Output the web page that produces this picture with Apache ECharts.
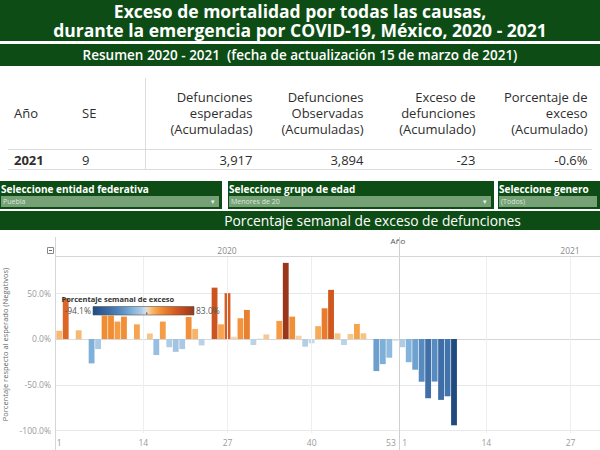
<!DOCTYPE html>
<html><head><meta charset="utf-8">
<script src="https://cdn.jsdelivr.net/npm/echarts@6/dist/echarts.min.js"></script>
<style>
html,body{margin:0;padding:0;background:#fff;}
#page{position:relative;width:600px;height:450px;overflow:hidden;font-family:'Open Sans','Noto Sans',sans-serif;background:#fff;}
.abs{position:absolute;white-space:nowrap;}
.green{background:#0d4d15;color:#fff;}
.hdr{position:absolute;text-align:right;font-size:13px;line-height:16px;height:16px;color:#2e2e2e;white-space:nowrap;}
.cell{position:absolute;font-size:13px;line-height:16px;height:16px;color:#2e2e2e;white-space:nowrap;}
.filter{position:absolute;top:181px;height:28px;background:#0d4d15;}
.filter .lab{position:absolute;left:1px;top:1px;font-size:10px;line-height:14px;font-weight:700;color:#fff;white-space:nowrap;}
.filter .dd{position:absolute;left:1px;right:3px;top:15px;height:11px;background:#76a176;}
.filter .dd span{position:absolute;left:2px;top:0;font-size:7px;line-height:11px;color:#d9e8d9;white-space:nowrap;}
.filter .dd i{position:absolute;right:4px;top:0;font-size:7px;line-height:11px;color:#e8f0e8;font-style:normal;}
.tline{display:block;height:19px;line-height:19px;}
</style></head><body>
<div id="page">
  <div class="abs green" style="left:0;top:0;width:600px;height:41px;text-align:center;font-weight:700;font-size:17.5px;padding-top:2px;box-sizing:border-box;" id="titulo"></div>
  <div class="abs green" style="left:0;top:44px;width:600px;height:22px;text-align:center;font-weight:600;font-size:13.5px;line-height:22px;white-space:pre;" id="subtitulo"></div>
  <div id="tabla"></div>
  <div id="filtros"></div>
  <div class="abs green" style="left:0;top:211px;width:600px;height:19px;"></div>
  <div class="abs" style="left:145px;top:211px;width:455px;height:19px;text-align:center;color:#fff;font-size:13.8px;line-height:19px;" id="tituloGrafica"></div>
  <div id="chart" style="position:absolute;left:0;top:230px;width:600px;height:220px;overflow:hidden;"></div>
</div>
<script>
// ---------- DATA ----------
const titulo = ['Exceso de mortalidad por todas las causas,', 'durante la emergencia por COVID-19, México, 2020 - 2021'];
const subtitulo = 'Resumen 2020 - 2021  (fecha de actualización 15 de marzo de 2021)';
const tablaEncabezados = [
  ['Defunciones', 'esperadas', '(Acumuladas)'],
  ['Defunciones', 'Observadas', '(Acumuladas)'],
  ['Exceso de', 'defunciones', '(Acumulado)'],
  ['Porcentaje de', 'exceso', '(Acumulado)']
];
const tablaFila = ['2021', '9'];
const tablaValores = ['3,917', '3,894', '-23', '-0.6%'];
const filtroTitulos = ['Seleccione entidad federativa', 'Seleccione grupo de edad', 'Seleccione genero'];
const filtroValores = ['Puebla', 'Menores de 20', '(Todos)'];
const tituloGrafica = 'Porcentaje semanal de exceso de defunciones';
const semanas = ['1','2','3','4','5','6','7','8','9','10','11','12','13','14','15','16','17','18','19','20',
  '21','22','23','24','25','26','27','28','29','30','31','32','33','34','35','36','37','38','39','40',
  '41','42','43','44','45','46','47','48','49','50','51','52','53'];
const exceso2020 = [9, 44.5, -1, 9.5, -0.5, -26.6, -11, 25.5, 25.5, 19, 24.4, -1, 16, -0.5, 6, -17.5, 19, -9, -14, -11,
  24, 11, -7, -0.5, 56, 16, 50, 2.5, 22.6, 31.7, -6.6, 0.5, 5, 0, 19.7, 83.0, 24.4, 3.6, -8.4, -4.7,
  14, 33.5, 53.6, 6.2, -6.6, 5.5, 16.4, 6.2, 0, -35, -27.4, -20.4, -2];
const exceso2021 = [-9, -25.3, -33.5, -46.6, -64.6, -46.4, -66.4, -62.5, -94.1];
const anios = ['2020', '2021'];
const yTicks = [-100, -50, 0, 50];
const etiquetasSemana2020 = ['1', '14', '27', '40', '53'];
const etiquetasSemana2021 = ['1', '14', '27'];
const legendMin = -94.1, legendMax = 83.0;
const legendTitle = 'Porcentaje semanal de exceso';
const yTitle = 'Porcentaje respecto al esperado (Negativos)';
const xTitle = 'Año';

// ---------- HTML PARTS ----------
document.getElementById('titulo').innerHTML = titulo.map(t => '<span class="tline">' + t + '</span>').join('');
document.getElementById('subtitulo').textContent = subtitulo;
document.getElementById('tituloGrafica').textContent = tituloGrafica;
(function(){
  const colRight = [252.5, 363.5, 475.5, 587.5];
  let h = '';
  h += '<div class="cell" style="left:14px;top:105px;">Año</div>';
  h += '<div class="cell" style="left:82px;top:105px;">SE</div>';
  h += '<div class="abs" style="left:145px;top:78px;width:1px;height:92px;background:#dcdcdc;"></div>';
  h += '<div class="abs" style="left:8px;top:149px;width:584px;height:1px;background:#dcdcdc;"></div>';
  h += '<div class="abs" style="left:8px;top:169px;width:584px;height:1px;background:#dcdcdc;"></div>';
  tablaEncabezados.forEach((lines, i) => {
    lines.forEach((ln, j) => {
      h += '<div class="hdr" style="right:' + (600 - colRight[i]) + 'px;top:' + (89 + 16 * j) + 'px;">' + ln + '</div>';
    });
  });
  h += '<div class="cell" style="left:14px;top:152px;font-weight:700;">' + tablaFila[0] + '</div>';
  h += '<div class="cell" style="left:82px;top:152px;">' + tablaFila[1] + '</div>';
  tablaValores.forEach((v, i) => {
    h += '<div class="hdr" style="right:' + (600 - colRight[i]) + 'px;top:152px;">' + v + '</div>';
  });
  document.getElementById('tabla').innerHTML = h;
  const fl = [[0, 222], [228, 266], [498, 102]];
  let f = '';
  filtroTitulos.forEach((t, i) => {
    f += '<div class="filter" style="left:' + fl[i][0] + 'px;width:' + fl[i][1] + 'px;"><div class="lab">' + t +
      '</div><div class="dd"><span>' + filtroValores[i] + '</span>' + (i < 2 ? '<i>▾</i>' : '') + '</div></div>';
  });
  document.getElementById('filtros').innerHTML = f;
})();

// ---------- COLOR SCALE ----------
function h2r(h){return [parseInt(h.substr(1,2),16),parseInt(h.substr(3,2),16),parseInt(h.substr(5,2),16)];}
function lerpStops(stops, t){
  t = Math.max(0, Math.min(1, t));
  for (let i = 1; i < stops.length; i++) {
    if (t <= stops[i][0]) {
      const a = stops[i-1], b = stops[i];
      const k = (t - a[0]) / (b[0] - a[0]);
      const ca = h2r(a[1]), cb = h2r(b[1]);
      return 'rgb(' + ca.map((c, j) => Math.round(c + (cb[j] - c) * k)).join(',') + ')';
    }
  }
  return stops[stops.length-1][1];
}
const blueStops = [[0,'#e2e0dc'],[0.05,'#c6d9e9'],[0.1,'#aecbe5'],[0.28,'#80b1da'],[0.4,'#6699ca'],[0.55,'#4f82b9'],[0.72,'#3d6ba4'],[1,'#1f4b80']];
const orangeStops = [[0,'#ebe1d3'],[0.04,'#f4d2a6'],[0.08,'#f8c17f'],[0.2,'#f6a24d'],[0.32,'#ef8a31'],[0.45,'#e4722a'],[0.65,'#d0561e'],[1,'#9a361b']];
function colorFor(v){
  return v < 0 ? lerpStops(blueStops, -v / -legendMin) : lerpStops(orangeStops, v / legendMax);
}

// ---------- CHART ----------
const chart = echarts.init(document.getElementById('chart'), null, {renderer: 'svg'});
const FONT = "'Open Sans','Noto Sans',sans-serif";
function yAxisOf(i){
  return {
    type: 'value', gridIndex: i, min: -102.5, max: 90.5,
    name: i === 0 ? yTitle : '', nameLocation: 'middle', nameGap: 45,
    nameTextStyle: {fontSize: 7.5, color: '#666', fontFamily: FONT},
    axisLine: {show: false},
    axisTick: {show: false, customValues: yTicks},
    axisLabel: {show: i === 0, customValues: yTicks, formatter: v => v.toFixed(1) + '%', color: '#9a9a9a', fontSize: 8.5, margin: 5, fontFamily: FONT},
    splitLine: {show: true, lineStyle: {color: '#e8e8e8', width: 1}}
  };
}
function xAxisOf(i){
  const shown = i === 0 ? etiquetasSemana2020 : etiquetasSemana2021;
  return {
    type: 'category', gridIndex: i, data: semanas,
    axisLine: {show: true, lineStyle: {color: '#d6d6d6'}},
    axisTick: {show: false},
    axisLabel: {interval: (idx, val) => shown.indexOf(val) >= 0, color: '#9a9a9a', fontSize: 8.5, margin: 5, fontFamily: FONT,
      alignMinLabel: i === 1 ? 'left' : 'center', alignMaxLabel: i === 0 ? 'right' : 'center'},
    splitLine: {show: false}
  };
}
const vLines = {silent: true, symbol: 'none', label: {show: false}, lineStyle: {color: '#eeeeee', width: 1, type: 'solid'}, data: [{xAxis: '14'}, {xAxis: '27'}, {xAxis: '40'}]};
const barItem = {color: p => colorFor(p.value)};

// legend gradient stops
const gStops = [];
for (let k = 0; k <= 40; k++) {
  const v = legendMin + (legendMax - legendMin) * k / 40;
  gStops.push({offset: k / 40, color: colorFor(v)});
}
const zeroX = 93 + 101 * (-legendMin) / (legendMax - legendMin);

chart.setOption({
  animation: false,
  grid: [
    {left: 56, top: 26, width: 343, height: 177, containLabel: false, outerBoundsMode: 'none'},
    {left: 399, top: 26, width: 343, height: 177, containLabel: false, outerBoundsMode: 'none'}
  ],
  xAxis: [xAxisOf(0), xAxisOf(1)],
  yAxis: [yAxisOf(0), yAxisOf(1)],
  series: [
    {type: 'bar', name: anios[0], xAxisIndex: 0, yAxisIndex: 0, data: exceso2020, barWidth: '90%', itemStyle: barItem, markLine: vLines},
    {type: 'bar', name: anios[1], xAxisIndex: 1, yAxisIndex: 1, data: exceso2021, barWidth: '90%', itemStyle: barItem, markLine: vLines}
  ],
  graphic: [
    {type: 'line', shape: {x1: 55.5, y1: 7, x2: 55.5, y2: 220}, style: {stroke: '#d6d6d6', lineWidth: 1}, z: 10},
    {type: 'line', shape: {x1: 399.5, y1: 7, x2: 399.5, y2: 220}, style: {stroke: '#d0d0d0', lineWidth: 1}, z: 10},
    {type: 'line', shape: {x1: 55, y1: 26.5, x2: 600, y2: 26.5}, style: {stroke: '#d6d6d6', lineWidth: 1}, z: 10},
    {type: 'text', x: 398, y: 10, style: {text: xTitle, fill: '#555', fontSize: 8, fontFamily: FONT, align: 'center', verticalAlign: 'middle'}},
    {type: 'text', x: 227, y: 20, style: {text: anios[0], fill: '#8a8a8a', fontSize: 8.5, fontFamily: FONT, align: 'center', verticalAlign: 'middle'}},
    {type: 'text', x: 570, y: 20, style: {text: anios[1], fill: '#8a8a8a', fontSize: 8.5, fontFamily: FONT, align: 'center', verticalAlign: 'middle'}},
    {type: 'rect', shape: {x: 47.5, y: 17.5, width: 6, height: 6}, style: {fill: '#fff', stroke: '#888', lineWidth: 1}, z: 10},
    {type: 'line', shape: {x1: 49, y1: 20.5, x2: 52, y2: 20.5}, style: {stroke: '#666', lineWidth: 1}, z: 11},
    {type: 'text', x: 61.5, y: 69, z: 20, style: {text: legendTitle, fill: '#333', fontSize: 7.5, fontWeight: 'bold', fontFamily: FONT, align: 'left', verticalAlign: 'middle'}},
    {type: 'rect', z: 20, shape: {x: 93, y: 76.5, width: 101, height: 8.5},
      style: {fill: new echarts.graphic.LinearGradient(0, 0, 1, 0, gStops), stroke: '#555', lineWidth: 0.6}},
    {type: 'rect', z: 21, shape: {x: zeroX - 0.5, y: 82.5, width: 1.2, height: 2}, style: {fill: '#555'}},
    {type: 'text', x: 91, y: 80.7, z: 20, style: {text: legendMin.toFixed(1) + '%', fill: '#555', fontSize: 8.5, fontFamily: FONT, align: 'right', verticalAlign: 'middle'}},
    {type: 'text', x: 196, y: 80.7, z: 20, style: {text: legendMax.toFixed(1) + '%', fill: '#555', fontSize: 8.5, fontFamily: FONT, align: 'left', verticalAlign: 'middle'}}
  ]
});
</script>
</body></html>
